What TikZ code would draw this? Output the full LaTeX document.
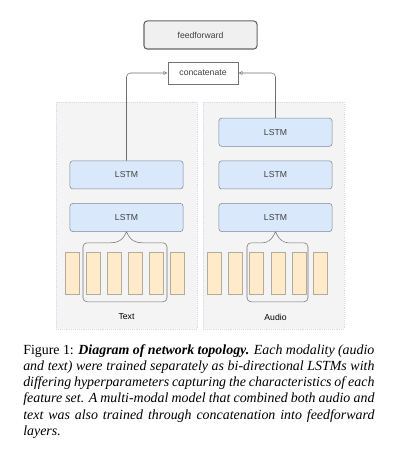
\documentclass[tikz,border=0pt]{standalone}
\usepackage{fontspec}
\setmainfont{Liberation Serif}
\setsansfont{Liberation Sans}
\usepackage{xcolor}
\usetikzlibrary{positioning, arrows.meta, calc, backgrounds}

\definecolor{lstmfill}{HTML}{DAE8FC}
\definecolor{lstmline}{HTML}{7D8796}
\definecolor{seqfill}{HTML}{FFEBC9}
\definecolor{seqline}{HTML}{B3AC9C}
\definecolor{panelfill}{HTML}{F4F4F4}
\definecolor{panelline}{HTML}{D3DCE8}
\definecolor{wire}{HTML}{6E6E6E}

\begin{document}
\begin{tikzpicture}[
					x=0.26mm, y=-0.26mm,
					font=\sffamily\fontsize{6.4}{7.6}\selectfont,
					>={Latex[open, length=3pt, width=3pt]},
					% Define styles for the blocks
					lstm/.style={
						draw=lstmline,
						fill=lstmfill,
						minimum width=29.4mm,
						minimum height=7.3mm,
						rounded corners=2pt,
						text=black!75
					},
					ffbox/.style={
						draw=black!60,
						fill=black!6,
						minimum width=29.4mm,
						minimum height=7.3mm,
						rounded corners=2.5pt,
						thick,
						text=black!75
					},
					catbox/.style={
						draw=black!55,
						fill=white,
						minimum width=18.2mm,
						minimum height=5.7mm,
						text=black!75
					},
					seq/.style={
						draw=seqline,
						fill=seqfill,
						minimum width=3.8mm,
						minimum height=10.9mm,
						inner sep=0pt
					},
					panel/.style={
						draw=panelline,
						densely dotted,
						fill=panelfill
					},
					wire_line/.style={
						draw=wire,
						thin
					},
					group/.style={
						draw=black!55,
						thin,
						rounded corners=3pt
					},
					caption_text/.style={
						font=\rmfamily\fontsize{10.3}{12.05}\selectfont,
						text width=91.3mm,
						align=justify,
						inner sep=0pt
					}
					]
					
					\useasboundingbox (0,0) rectangle (400,463);
					
					% --- 1. PANELS ---
					\draw[panel] (56,102) rectangle (197,329);
					\draw[panel] (203,102) rectangle (344,329);
					\node (text_lbl) at (126.5,317) {Text};
					\node (audio_lbl) at (275.5,317) {Audio};
					
					% --- 2. TOP BLOCKS ---
					\node[ffbox] (ff) at (200.5,35) {feedforward};
					\node[catbox] (concat) at (203,73) {concatenate};
					
					% --- 3. TEXT BRANCH ---
					\node[lstm] (t_lstm1) at (126.5,217.5) {LSTM};
					\node[lstm, above=3.64mm of t_lstm1] (t_lstm2) {LSTM};
					\foreach \i/\x in {1/72.2, 2/93.2, 3/114.2, 4/135.2, 5/156.2, 6/177.2}
					\node[seq] (t_seq\i) at (\x,273) {};
					
					% --- 4. AUDIO BRANCH ---
					\node[lstm] (a_lstm1) at (275.5,217.5) {LSTM};
					\node[lstm, above=3.64mm of a_lstm1] (a_lstm2) {LSTM};
					\node[lstm, above=3.64mm of a_lstm2] (a_lstm3) {LSTM};
					\foreach \i/\x in {1/214.2, 2/235.2, 3/256.2, 4/278.2, 5/299.2, 6/320.2}
					\node[seq] (a_seq\i) at (\x,273) {};
					
					% Braces grouping the inputs
					\coordinate (t_peak) at (t_lstm1.south);
					\draw[group] (t_peak) .. controls ([shift={(-4,9)}]t_peak) and ([shift={(-9,11)}]t_peak) .. ([shift={(-20,11)}]t_peak)
					-- ([shift={(-43.5,11)}]t_peak) -- ([shift={(-43.5,70)}]t_peak) -- ([shift={(40.5,70)}]t_peak)
					-- ([shift={(40.5,11)}]t_peak) -- ([shift={(20,11)}]t_peak)
					.. controls ([shift={(9,11)}]t_peak) and ([shift={(4,9)}]t_peak) .. (t_peak);
					\coordinate (a_peak) at (a_lstm1.south);
					\draw[group] (a_peak) .. controls ([shift={(-4,9)}]a_peak) and ([shift={(-9,11)}]a_peak) .. ([shift={(-17,11)}]a_peak)
					-- ([shift={(-28.5,11)}]a_peak) -- ([shift={(-28.5,70)}]a_peak) -- ([shift={(32.5,70)}]a_peak)
					-- ([shift={(32.5,11)}]a_peak) -- ([shift={(17,11)}]a_peak)
					.. controls ([shift={(9,11)}]a_peak) and ([shift={(4,9)}]a_peak) .. (a_peak);
					
					% --- 5. CONNECTIONS ---
					\draw[wire_line, ->, rounded corners=3pt] (t_lstm2.north) |- (concat.west);
					\draw[wire_line, ->, rounded corners=3pt] (a_lstm3.north) |- (concat.east);
					
					% --- 6. CAPTION ---
					\node[caption_text, anchor=north west] (caption) at (23,344) {Figure 1: \textbf{\textit{Diagram of network topology.}} \textit{Each modality (audio\linebreak
						and text) were trained separately as bi-directional LSTMs with\linebreak
						differing hyperparameters capturing the characteristics of each\linebreak
						feature set. A multi-modal model that combined both audio and\linebreak
						text was also trained through concatenation into feedforward\linebreak
						layers.}};
					
\end{tikzpicture}
\end{document}
